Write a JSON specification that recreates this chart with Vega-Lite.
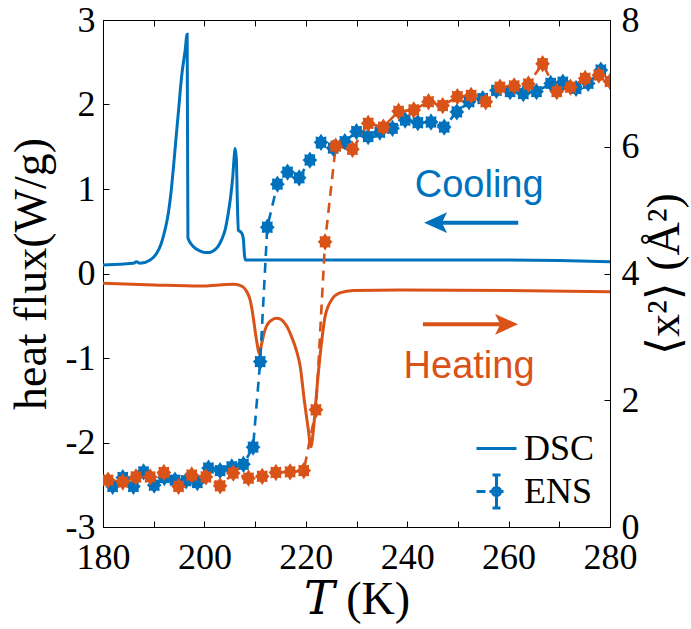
{
  "$schema": "https://vega.github.io/schema/vega-lite/v6.json",
  "width": 507,
  "height": 507,
  "autosize": {"type": "none"},
  "padding": {"left": 103, "top": 20, "right": 81, "bottom": 102},
  "background": "white",
  "config": {
    "view": {"fill": "#fafafc", "stroke": "black", "strokeWidth": 1},
    "axis": {
      "grid": false, "domainColor": "black", "tickColor": "black", "labelColor": "black", "titleColor": "black",
      "labelFont": "Liberation Serif", "titleFont": "Liberation Serif, DejaVu Serif", "labelFontSize": 36, "titleFontSize": 46,
      "titleFontWeight": "normal", "tickSize": -6, "labelPadding": 14, "domainWidth": 1, "tickWidth": 1,
      "labelFlush": false, "labelOverlap": false, "labelBound": false
    }
  },
  "datasets": {
    "dsc": [
      {"T": 180, "q": 0.10, "run": "Cooling"},
      {"T": 183.4, "q": 0.11, "run": "Cooling"},
      {"T": 186.0, "q": 0.12, "run": "Cooling"},
      {"T": 186.6, "q": 0.14, "run": "Cooling"},
      {"T": 187.3, "q": 0.12, "run": "Cooling"},
      {"T": 189.3, "q": 0.16, "run": "Cooling"},
      {"T": 190.6, "q": 0.24, "run": "Cooling"},
      {"T": 191.4, "q": 0.34, "run": "Cooling"},
      {"T": 191.9, "q": 0.44, "run": "Cooling"},
      {"T": 192.4, "q": 0.56, "run": "Cooling"},
      {"T": 192.9, "q": 0.72, "run": "Cooling"},
      {"T": 193.4, "q": 0.95, "run": "Cooling"},
      {"T": 193.9, "q": 1.26, "run": "Cooling"},
      {"T": 194.4, "q": 1.60, "run": "Cooling"},
      {"T": 194.9, "q": 1.93, "run": "Cooling"},
      {"T": 195.5, "q": 2.33, "run": "Cooling"},
      {"T": 196.2, "q": 2.64, "run": "Cooling"},
      {"T": 196.6, "q": 2.83, "run": "Cooling"},
      {"T": 196.75, "q": 0.42, "run": "Cooling"},
      {"T": 197.8, "q": 0.32, "run": "Cooling"},
      {"T": 199.0, "q": 0.27, "run": "Cooling"},
      {"T": 200.1, "q": 0.25, "run": "Cooling"},
      {"T": 201.0, "q": 0.25, "run": "Cooling"},
      {"T": 201.8, "q": 0.27, "run": "Cooling"},
      {"T": 202.7, "q": 0.32, "run": "Cooling"},
      {"T": 203.4, "q": 0.40, "run": "Cooling"},
      {"T": 204.1, "q": 0.52, "run": "Cooling"},
      {"T": 204.7, "q": 0.71, "run": "Cooling"},
      {"T": 205.2, "q": 0.92, "run": "Cooling"},
      {"T": 205.6, "q": 1.15, "run": "Cooling"},
      {"T": 205.9, "q": 1.40, "run": "Cooling"},
      {"T": 206.05, "q": 1.48, "run": "Cooling"},
      {"T": 206.3, "q": 1.36, "run": "Cooling"},
      {"T": 206.5, "q": 0.85, "run": "Cooling"},
      {"T": 206.7, "q": 0.51, "run": "Cooling"},
      {"T": 207.2, "q": 0.49, "run": "Cooling"},
      {"T": 207.5, "q": 0.46, "run": "Cooling"},
      {"T": 207.7, "q": 0.40, "run": "Cooling"},
      {"T": 207.9, "q": 0.22, "run": "Cooling"},
      {"T": 208.1, "q": 0.16, "run": "Cooling"},
      {"T": 220, "q": 0.16, "run": "Cooling"},
      {"T": 240, "q": 0.16, "run": "Cooling"},
      {"T": 260, "q": 0.16, "run": "Cooling"},
      {"T": 270, "q": 0.155, "run": "Cooling"},
      {"T": 280, "q": 0.14, "run": "Cooling"},
      {"T": 180, "q": -0.115, "run": "Heating"},
      {"T": 190, "q": -0.135, "run": "Heating"},
      {"T": 199.1, "q": -0.148, "run": "Heating"},
      {"T": 205.7, "q": -0.128, "run": "Heating"},
      {"T": 207.0, "q": -0.14, "run": "Heating"},
      {"T": 207.7, "q": -0.163, "run": "Heating"},
      {"T": 208.4, "q": -0.22, "run": "Heating"},
      {"T": 209.0, "q": -0.31, "run": "Heating"},
      {"T": 209.4, "q": -0.43, "run": "Heating"},
      {"T": 209.8, "q": -0.59, "run": "Heating"},
      {"T": 210.1, "q": -0.72, "run": "Heating"},
      {"T": 210.4, "q": -0.83, "run": "Heating"},
      {"T": 210.8, "q": -0.95, "run": "Heating"},
      {"T": 211.3, "q": -0.83, "run": "Heating"},
      {"T": 211.7, "q": -0.72, "run": "Heating"},
      {"T": 212.2, "q": -0.63, "run": "Heating"},
      {"T": 212.7, "q": -0.58, "run": "Heating"},
      {"T": 213.3, "q": -0.55, "run": "Heating"},
      {"T": 214.2, "q": -0.53, "run": "Heating"},
      {"T": 215.0, "q": -0.54, "run": "Heating"},
      {"T": 215.6, "q": -0.57, "run": "Heating"},
      {"T": 216.4, "q": -0.64, "run": "Heating"},
      {"T": 217.2, "q": -0.75, "run": "Heating"},
      {"T": 218.1, "q": -0.90, "run": "Heating"},
      {"T": 218.9, "q": -1.10, "run": "Heating"},
      {"T": 219.7, "q": -1.50, "run": "Heating"},
      {"T": 220.2, "q": -1.72, "run": "Heating"},
      {"T": 220.5, "q": -1.85, "run": "Heating"},
      {"T": 221.0, "q": -2.05, "run": "Heating"},
      {"T": 221.5, "q": -1.85, "run": "Heating"},
      {"T": 222.0, "q": -1.50, "run": "Heating"},
      {"T": 222.4, "q": -1.22, "run": "Heating"},
      {"T": 222.8, "q": -0.98, "run": "Heating"},
      {"T": 223.3, "q": -0.72, "run": "Heating"},
      {"T": 223.8, "q": -0.51, "run": "Heating"},
      {"T": 224.4, "q": -0.39, "run": "Heating"},
      {"T": 225.1, "q": -0.31, "run": "Heating"},
      {"T": 226.7, "q": -0.23, "run": "Heating"},
      {"T": 229.4, "q": -0.20, "run": "Heating"},
      {"T": 238.6, "q": -0.195, "run": "Heating"},
      {"T": 260, "q": -0.20, "run": "Heating"},
      {"T": 280, "q": -0.215, "run": "Heating"}
    ],
    "ens": [
      {"T": 181.9, "x2": 0.64, "run": "Cooling"},
      {"T": 183.9, "x2": 0.78, "run": "Cooling"},
      {"T": 186.0, "x2": 0.64, "run": "Cooling"},
      {"T": 188.0, "x2": 0.87, "run": "Cooling"},
      {"T": 190.1, "x2": 0.66, "run": "Cooling"},
      {"T": 192.1, "x2": 0.78, "run": "Cooling"},
      {"T": 194.2, "x2": 0.74, "run": "Cooling"},
      {"T": 196.4, "x2": 0.73, "run": "Cooling"},
      {"T": 198.6, "x2": 0.70, "run": "Cooling"},
      {"T": 200.8, "x2": 0.93, "run": "Cooling"},
      {"T": 203.1, "x2": 0.89, "run": "Cooling"},
      {"T": 205.4, "x2": 0.95, "run": "Cooling"},
      {"T": 207.7, "x2": 0.99, "run": "Cooling"},
      {"T": 209.6, "x2": 1.26, "run": "Cooling"},
      {"T": 211.0, "x2": 2.61, "run": "Cooling"},
      {"T": 212.4, "x2": 4.73, "run": "Cooling"},
      {"T": 214.4, "x2": 5.41, "run": "Cooling"},
      {"T": 216.4, "x2": 5.60, "run": "Cooling"},
      {"T": 218.7, "x2": 5.51, "run": "Cooling"},
      {"T": 220.8, "x2": 5.79, "run": "Cooling"},
      {"T": 223.0, "x2": 6.07, "run": "Cooling"},
      {"T": 225.4, "x2": 5.98, "run": "Cooling"},
      {"T": 227.7, "x2": 6.08, "run": "Cooling"},
      {"T": 230.0, "x2": 6.24, "run": "Cooling"},
      {"T": 232.3, "x2": 6.16, "run": "Cooling"},
      {"T": 234.6, "x2": 6.23, "run": "Cooling"},
      {"T": 237.1, "x2": 6.29, "run": "Cooling"},
      {"T": 239.6, "x2": 6.42, "run": "Cooling"},
      {"T": 242.1, "x2": 6.38, "run": "Cooling"},
      {"T": 244.7, "x2": 6.39, "run": "Cooling"},
      {"T": 247.3, "x2": 6.31, "run": "Cooling"},
      {"T": 249.8, "x2": 6.55, "run": "Cooling"},
      {"T": 252.2, "x2": 6.71, "run": "Cooling"},
      {"T": 254.9, "x2": 6.76, "run": "Cooling"},
      {"T": 257.6, "x2": 6.89, "run": "Cooling"},
      {"T": 260.3, "x2": 6.87, "run": "Cooling"},
      {"T": 262.9, "x2": 6.84, "run": "Cooling"},
      {"T": 265.5, "x2": 6.87, "run": "Cooling"},
      {"T": 268.3, "x2": 7.00, "run": "Cooling"},
      {"T": 270.7, "x2": 7.02, "run": "Cooling"},
      {"T": 273.3, "x2": 6.92, "run": "Cooling"},
      {"T": 275.7, "x2": 7.00, "run": "Cooling"},
      {"T": 278.2, "x2": 7.21, "run": "Cooling"},
      {"T": 181.0, "x2": 0.74, "run": "Heating"},
      {"T": 183.9, "x2": 0.71, "run": "Heating"},
      {"T": 186.5, "x2": 0.79, "run": "Heating"},
      {"T": 189.3, "x2": 0.79, "run": "Heating"},
      {"T": 192.0, "x2": 0.86, "run": "Heating"},
      {"T": 194.9, "x2": 0.64, "run": "Heating"},
      {"T": 197.5, "x2": 0.82, "run": "Heating"},
      {"T": 200.3, "x2": 0.79, "run": "Heating"},
      {"T": 203.1, "x2": 0.65, "run": "Heating"},
      {"T": 205.7, "x2": 0.85, "run": "Heating"},
      {"T": 208.7, "x2": 0.77, "run": "Heating"},
      {"T": 211.4, "x2": 0.80, "run": "Heating"},
      {"T": 214.1, "x2": 0.86, "run": "Heating"},
      {"T": 216.9, "x2": 0.87, "run": "Heating"},
      {"T": 219.6, "x2": 0.89, "run": "Heating"},
      {"T": 222.0, "x2": 1.85, "run": "Heating"},
      {"T": 223.8, "x2": 4.50, "run": "Heating"},
      {"T": 225.9, "x2": 6.01, "run": "Heating"},
      {"T": 229.2, "x2": 5.96, "run": "Heating"},
      {"T": 232.3, "x2": 6.37, "run": "Heating"},
      {"T": 235.3, "x2": 6.31, "run": "Heating"},
      {"T": 238.3, "x2": 6.56, "run": "Heating"},
      {"T": 241.3, "x2": 6.58, "run": "Heating"},
      {"T": 244.2, "x2": 6.71, "run": "Heating"},
      {"T": 247.0, "x2": 6.65, "run": "Heating"},
      {"T": 249.9, "x2": 6.79, "run": "Heating"},
      {"T": 252.6, "x2": 6.81, "run": "Heating"},
      {"T": 255.5, "x2": 6.71, "run": "Heating"},
      {"T": 258.3, "x2": 6.94, "run": "Heating"},
      {"T": 261.1, "x2": 6.96, "run": "Heating"},
      {"T": 263.9, "x2": 6.99, "run": "Heating"},
      {"T": 266.7, "x2": 7.31, "run": "Heating"},
      {"T": 269.5, "x2": 6.87, "run": "Heating"},
      {"T": 272.2, "x2": 6.94, "run": "Heating"},
      {"T": 275.1, "x2": 7.08, "run": "Heating"},
      {"T": 277.8, "x2": 7.13, "run": "Heating"},
      {"T": 280.0, "x2": 7.03, "run": "Heating"}
    ],
    "notes": [
      {"label": "Cooling", "T": 254.2, "q": 0.905, "run": "Cooling"},
      {"label": "Heating", "T": 252.2, "q": -1.24, "run": "Heating"}
    ],
    "arrows": [
      {"run": "Cooling", "T1": 246.5, "T2": 261.9, "q": 0.601, "Thead": 245.6},
      {"run": "Heating", "T1": 243.1, "T2": 258.3, "q": -0.601, "Thead": 259.6}
    ],
    "legend": [{"entry": "DSC"}, {"entry": "ENS"}]
  },
  "layer": [
    {
      "layer": [
        {
          "data": {"name": "dsc"},
          "mark": {"type": "line", "strokeWidth": 3, "interpolate": "monotone", "clip": true},
          "encoding": {
            "x": {"field": "T", "type": "quantitative", "scale": {"domain": [180, 280], "nice": false},
              "axis": {"orient": "bottom", "title": "𝑇 (K)", "values": [180,185,190,195,200,205,210,215,220,225,230,235,240,245,250,255,260,265,270,275,280],
                "labelExpr": "datum.value % 20 == 0 ? datum.label : ''", "labelPadding": 19, "titlePadding": 2}},
            "y": {"field": "q", "type": "quantitative", "scale": {"domain": [-3, 3], "nice": false},
              "axis": {"orient": "left", "title": "heat flux(W/g)", "values": [-3,-2,-1,0,1,2,3],
                "labelExpr": "datum.value < 0 ? '-' + abs(datum.value) : '' + datum.value", "titlePadding": 10}},
            "color": {"field": "run", "type": "nominal", "scale": {"domain": ["Cooling", "Heating"], "range": ["#0072BD", "#D95319"]}, "legend": null},
            "order": {"field": "T", "type": "quantitative"}
          }
        },
        {
          "data": {"name": "arrows"},
          "mark": {"type": "rule", "strokeWidth": 4},
          "encoding": {
            "x": {"field": "T1", "type": "quantitative"},
            "x2": {"field": "T2"},
            "y": {"field": "q", "type": "quantitative"},
            "color": {"field": "run", "type": "nominal", "legend": null}
          }
        },
        {
          "data": {"name": "arrows"},
          "transform": [{"filter": "datum.run == 'Cooling'"}],
          "mark": {"type": "point", "shape": "M-1,0L1,-0.9L0.55,0L1,0.9Z", "filled": true, "size": 529, "opacity": 1, "color": "#0072BD"},
          "encoding": {
            "x": {"field": "Thead", "type": "quantitative"},
            "y": {"field": "q", "type": "quantitative"}
          }
        },
        {
          "data": {"name": "arrows"},
          "transform": [{"filter": "datum.run == 'Heating'"}],
          "mark": {"type": "point", "shape": "M1,0L-1,-0.9L-0.55,0L-1,0.9Z", "filled": true, "size": 529, "opacity": 1, "color": "#D95319"},
          "encoding": {
            "x": {"field": "Thead", "type": "quantitative"},
            "y": {"field": "q", "type": "quantitative"}
          }
        },
        {
          "data": {"name": "notes"},
          "mark": {"type": "text", "font": "Liberation Sans", "fontSize": 38, "align": "center", "baseline": "alphabetic"},
          "encoding": {
            "x": {"field": "T", "type": "quantitative"},
            "y": {"field": "q", "type": "quantitative"},
            "text": {"field": "label"},
            "color": {"field": "run", "type": "nominal", "legend": null}
          }
        },
        {
          "data": {"name": "legend"},
          "mark": {"type": "point", "filled": false, "opacity": 0, "color": "#0072BD", "strokeWidth": 3},
          "encoding": {
            "shape": {"field": "entry", "type": "nominal",
              "scale": {"domain": ["DSC", "ENS"], "range": ["M-1,0H1", "M-1,0H-0.55M-0.35,0H0.35M0,-0.82V0.82M-0.2,-0.82H0.2M-0.2,0.82H0.2M0.2,0A0.2,0.2 0 1 1 -0.2,0A0.2,0.2 0 1 1 0.2,0Z"]},
              "legend": {"title": null, "orient": "none", "legendX": 372, "legendY": 407, "symbolSize": 1600,
                "labelFont": "Liberation Serif", "labelFontSize": 36, "labelColor": "black", "labelOffset": 6,
                "rowPadding": 2, "padding": 0, "symbolStrokeWidth": 3, "symbolStrokeColor": "#0072BD", "symbolFillColor": "#0072BD", "symbolOpacity": 1,
                "encode": {"symbols": {"update": {"fill": {"value": "#0072BD"}, "stroke": {"value": "#0072BD"}, "strokeWidth": {"value": 3}, "opacity": {"value": 1}, "strokeOpacity": {"value": 1}, "fillOpacity": {"value": 1}}}}}
            }
          }
        }
      ]
    },
    {
      "data": {"name": "ens"},
      "layer": [
        {
          "mark": {"type": "line", "strokeWidth": 2.6, "strokeDash": [10, 7], "clip": true},
          "encoding": {
            "x": {"field": "T", "type": "quantitative", "scale": {"domain": [180, 280], "nice": false},
              "axis": {"orient": "top", "title": null, "labels": false, "values": [180,185,190,195,200,205,210,215,220,225,230,235,240,245,250,255,260,265,270,275,280]}},
            "y": {"field": "x2", "type": "quantitative", "scale": {"domain": [0, 8], "nice": false},
              "axis": {"orient": "right", "title": "⟨x²⟩ (Å²)", "titleAngle": 270, "titleBaseline": "top", "values": [0, 2, 4, 6, 8], "format": "d", "labelPadding": 17, "titlePadding": 3}},
            "color": {"field": "run", "type": "nominal", "legend": null},
            "order": {"field": "T", "type": "quantitative"}
          }
        },
        {
          "mark": {"type": "point", "filled": true, "opacity": 1, "clip": true, "size": 300,
            "shape": "M0.85,0L0.6,-0.25L0.62,-0.66L0.25,-0.62L0,-1L-0.25,-0.62L-0.62,-0.66L-0.6,-0.25L-0.85,0L-0.6,0.25L-0.62,0.66L-0.25,0.62L0,1L0.25,0.62L0.62,0.66L0.6,0.25Z"},
          "encoding": {
            "x": {"field": "T", "type": "quantitative"},
            "y": {"field": "x2", "type": "quantitative"},
            "color": {"field": "run", "type": "nominal", "legend": null}
          }
        }
      ]
    }
  ],
  "resolve": {"scale": {"y": "independent"}, "axis": {"x": "independent"}}
}
